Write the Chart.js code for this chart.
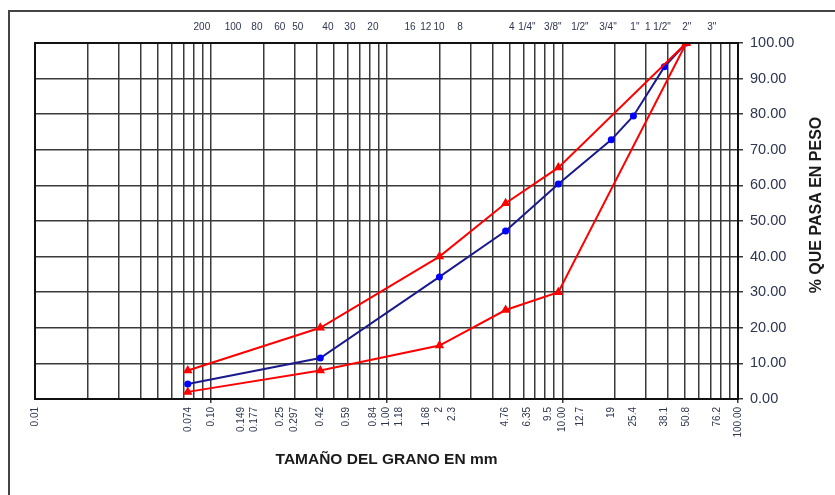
<!DOCTYPE html>
<html>
<head>
<meta charset="utf-8">
<script src="https://cdn.jsdelivr.net/npm/chart.js@4.4.1/dist/chart.umd.min.js"></script>
<style>
  html, body { margin: 0; padding: 0; background: #fff; }
  #wrap { width: 835px; height: 495px; position: relative; }
</style>
</head>
<body>
<div id="wrap"><canvas id="granChart"></canvas></div>
<script>
// Data (grain size curve, log x axis in mm)
const upperSizes = [0.074, 0.42, 2, 4.76, 9.5, 50.8];
const upperPass = [8, 20, 40, 55, 65, 100];
const lowerSizes = [0.074, 0.42, 2, 4.76, 9.5, 50.8];
const lowerPass = [2, 8, 15, 25, 30, 100];
const sampleSizes = [0.074, 0.42, 2, 4.76, 9.5, 19, 25.4, 38.1, 50.8];
const samplePass = [4.2, 11.5, 34.3, 47.2, 60.4, 72.8, 79.5, 93.3, 100];

// bottom tick labels and where they sit on the axis (mm)
const bottomTicks = [0.01, 0.074, 0.1, 0.149, 0.177, 0.25, 0.297, 0.42, 0.59, 0.84, 1, 1.18, 1.68, 2, 2.38,
  4.76, 6.35, 8.3, 10, 12.7, 19, 25.4, 38.1, 50.8, 76.2, 100];
const bottomLabels = ['0.01', '0.074', '0.10', '0.149', '0.177', '0.25', '0.297', '0.42', '0.59', '0.84', '1.00', '1.18', '1.68', '2', '2.3',
  '4.76', '6.35', '9.5', '10.00', '12.7', '19', '25.4', '38.1', '50.8', '76.2', '100.00'];

// sieve names along the top, and where each name sits on the axis (mm)
const sieveNames = ['200', '100', '80', '60', '50', '40', '30', '20', '16', '12', '10', '8',
  '4', '1/4"', '3/8"', '1/2"', '3/4"', '1"', '1 1/2"', '2"', '3"'];
const sieveLabelAt = [0.089, 0.134, 0.183, 0.247, 0.313, 0.464, 0.619, 0.837, 1.36, 1.675, 1.99, 2.62,
  5.17, 6.29, 8.84, 12.6, 18.2, 25.9, 35.0, 51.1, 71.0];

const yTicks = [0, 10, 20, 30, 40, 50, 60, 70, 80, 90, 100];

// standard log grid 1..9 x decade
const gridValues = [];
[0.01, 0.1, 1, 10].forEach(d => {
  for (let k = 1; k <= 9; k++) gridValues.push(Number((k * d).toPrecision(3)));
});
gridValues.push(100);

const topValues = Array.from(new Set(gridValues.concat(sieveLabelAt))).sort((a, b) => a - b);

const gridColor = '#3a3a3a';
const labelColor = '#2e3550';
const titleFont = 'bold 16px "Liberation Sans", Arial';

function pts(xs, ys) {
  return xs.map((x, i) => ({ x: x, y: ys[i] }));
}

const framePlugin = {
  id: 'frame',
  beforeDraw(chart) {
    const c = chart.ctx;
    c.save();
    c.strokeStyle = '#444';
    c.lineWidth = 2;
    c.strokeRect(9, 11, 900, 600);
    c.restore();
  },
  afterDatasetsDraw(chart) {
    const a = chart.chartArea;
    const c = chart.ctx;
    c.save();
    c.strokeStyle = '#111';
    c.lineWidth = 2;
    c.strokeRect(a.left, a.top, a.right - a.left, a.bottom - a.top);
    c.restore();
  },
  afterDraw(chart) {
    // y axis title, sits a bit above the middle of the plot like the original
    const c = chart.ctx;
    c.save();
    c.translate(817, 205);
    c.rotate(-Math.PI / 2);
    c.font = titleFont;
    c.fillStyle = '#1a1a1a';
    c.textAlign = 'center';
    c.textBaseline = 'middle';
    c.fillText('% QUE PASA EN PESO', 0, 0);
    c.restore();
  }
};

new Chart(document.getElementById('granChart').getContext('2d'), {
  type: 'line',
  data: {
    datasets: [
      {
        label: 'Limite superior',
        data: pts(upperSizes, upperPass),
        borderColor: '#ff0000',
        backgroundColor: '#ff0000',
        borderWidth: 2,
        pointStyle: 'triangle',
        pointRadius: 3.5,
        tension: 0
      },
      {
        label: 'Limite inferior',
        data: pts(lowerSizes, lowerPass),
        borderColor: '#ff0000',
        backgroundColor: '#ff0000',
        borderWidth: 2,
        pointStyle: 'triangle',
        pointRadius: 3.5,
        tension: 0
      },
      {
        label: 'Muestra',
        data: pts(sampleSizes, samplePass),
        borderColor: '#1a1a8c',
        backgroundColor: '#0000ff',
        pointBorderColor: '#0000ff',
        borderWidth: 2,
        pointStyle: 'circle',
        pointRadius: 2.5,
        tension: 0
      }
    ]
  },
  options: {
    responsive: true,
    maintainAspectRatio: false,
    animation: false,
    layout: { padding: { left: 35, top: 0, right: 0, bottom: 0 } },
    plugins: {
      legend: { display: false },
      tooltip: { enabled: false }
    },
    scales: {
      x: {
        type: 'logarithmic',
        position: 'bottom',
        min: 0.01,
        max: 100,
        afterBuildTicks: (s) => { s.ticks = bottomTicks.map(v => ({ value: v })); },
        afterFit: (s) => { s.height = 96; },
        ticks: {
          autoSkip: false,
          minRotation: 90,
          maxRotation: 90,
          padding: 4,
          color: labelColor,
          font: { family: 'Liberation Sans, Arial', size: 10 },
          callback: (v, i) => bottomLabels[i]
        },
        grid: {
          drawOnChartArea: false,
          drawTicks: true,
          tickLength: 4,
          lineWidth: 1.5,
          color: (ctx) => {
            const v = ctx.tick ? ctx.tick.value : 0;
            return [0.1, 1, 10, 100].includes(v) ? gridColor : 'rgba(0,0,0,0)';
          }
        },
        border: { display: true, color: '#111', width: 2 },
        title: {
          display: true,
          text: 'TAMAÑO DEL GRANO EN mm',
          color: '#1a1a1a',
          font: { family: 'Liberation Sans, Arial', size: 15.5, weight: 'bold' },
          padding: { top: 0, bottom: 26 }
        }
      },
      xTop: {
        type: 'logarithmic',
        position: 'top',
        min: 0.01,
        max: 100,
        afterBuildTicks: (s) => { s.ticks = topValues.map(v => ({ value: v })); },
        afterFit: (s) => { s.height = 43; },
        ticks: {
          autoSkip: false,
          maxRotation: 0,
          minRotation: 0,
          padding: 10,
          color: labelColor,
          font: { family: 'Liberation Sans, Arial', size: 10 },
          callback: (v) => {
            const i = sieveLabelAt.indexOf(v);
            return i >= 0 ? sieveNames[i] : '';
          }
        },
        grid: {
          drawOnChartArea: true,
          drawTicks: false,
          lineWidth: 1.5,
          color: (ctx) => {
            const v = ctx.tick ? ctx.tick.value : 0;
            return gridValues.includes(v) ? gridColor : 'rgba(0,0,0,0)';
          }
        },
        border: { display: true, color: '#111', width: 2 }
      },
      y: {
        position: 'right',
        min: 0,
        max: 100,
        afterBuildTicks: (s) => { s.ticks = yTicks.map(v => ({ value: v })); },
        afterFit: (s) => { s.width = 97; },
        ticks: {
          padding: 7,
          color: labelColor,
          font: { family: 'Liberation Sans, Arial', size: 14.5 },
          callback: (v) => Number(v).toFixed(2)
        },
        grid: {
          color: gridColor,
          lineWidth: 1.5,
          drawTicks: true,
          tickLength: 5
        },
        border: { display: true, color: '#111', width: 2 }
      }
    }
  },
  plugins: [framePlugin]
});
</script>
</body>
</html>
